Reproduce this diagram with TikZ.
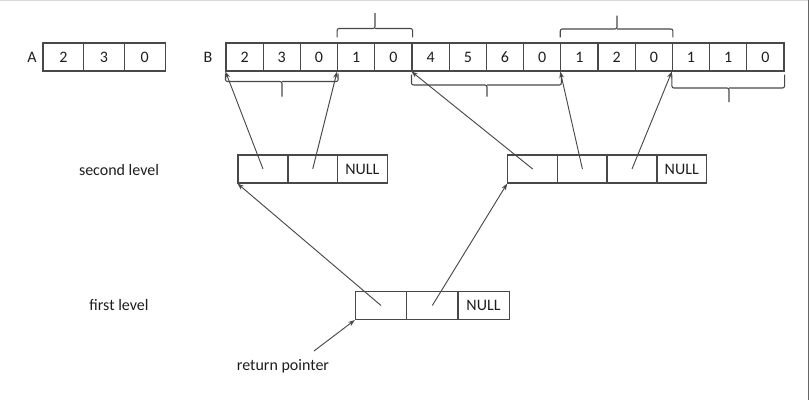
\documentclass[tikz,border=0pt]{standalone}
\usepackage{fontspec}
\setmainfont{Carlito}
\usetikzlibrary{arrows.meta}
\definecolor{ln}{HTML}{484848}
\definecolor{tx}{HTML}{1E1E1E}
\tikzset{
  cellbase/.style={draw=ln, line width=0.8pt, rectangle, inner sep=0pt, text=tx, font=\fontsize{12}{14}\selectfont},
  acell/.style={cellbase, minimum width=30.5pt, minimum height=21pt},
  bcell/.style={cellbase, minimum width=27.9pt, minimum height=21pt},
  lcell/.style={cellbase, minimum width=37.5pt, minimum height=21pt},
  fcell/.style={cellbase, minimum width=38.5pt, minimum height=21pt},
  lbl/.style={text=tx, inner sep=0pt, font=\fontsize{12}{14}\selectfont},
  arr/.style={draw=ln, line width=0.7pt, -{Stealth[length=5pt,width=3.6pt]}},
  brc/.style={draw=ln, line width=0.8pt, rounded corners=1.5pt},
}
\begin{document}
\begin{tikzpicture}[x=0.75pt, y=-0.75pt]
\useasboundingbox (0,0) rectangle (809,400);
% frame artifacts
\draw[black!15, line width=1.2pt] (0,0.6) -- (809,0.6);
\draw[black!60, line width=1pt] (808.2,0) -- (808.2,400);
% labels A, B
\node[lbl] (la) at (32,57) {A};
\node[lbl] (lb) at (208,57) {B};
% array A
\foreach \v [count=\i] in {2,3,0}
  \node[acell] (a\i) at ({43+40.7*(\i-0.5)},57) {\v};
% array B
\foreach \v [count=\i] in {2,3,0,1,0,4,5,6,0,1,2,0,1,1,0}
  \node[bcell] (b\i) at ({226+37.2*(\i-0.5)},57) {\v};
% second level left
\node[lcell] (s1) at (263,169) {};
\node[lcell] (s2) at (312.7,169) {};
\node[lcell] (s3) at (362.3,169) {NULL};
% second level right
\node[lcell] (r1) at (532.7,169) {};
\node[lcell] (r2) at (582.4,169) {};
\node[lcell] (r3) at (632,169) {};
\node[lcell] (r4) at (681.7,169) {NULL};
% first level
\node[fcell] (f1) at (381,305.5) {};
\node[fcell] (f2) at (432.3,305.5) {};
\node[fcell] (f3) at (483.5,305.5) {NULL};
% text labels
\node[lbl] (tsl) at (119,170) {second level};
\node[lbl] (tfl) at (119,305) {first level};
\node[lbl] (trp) at (283,366) {return pointer};
\coordinate (rp) at (314,351);
% braces
\draw[brc] (b1.south west) ++(0,2) |- (282,81.5) -- (282,96.5);
\draw[brc] (b3.south east) ++(0,2) |- (282,81.5);
\draw[brc] (b6.south west) ++(0,3) |- (487,85) -- (487,96.5);
\draw[brc] (b9.south east) ++(0,3) |- (487,85);
\draw[brc] (b13.south west) ++(0,3) |- (729,88) -- (729,102);
\draw[brc] (b15.south east) ++(0,3) |- (729,88);
\draw[brc] (b4.north west) ++(0,-5) |- (375,28.5) -- (375,13);
\draw[brc] (b5.north east) ++(0,-5) |- (375,28.5);
\draw[brc] (b10.north west) ++(0,-5) |- (617,29) -- (617,15.5);
\draw[brc] (b12.north east) ++(0,-5) |- (617,29);
% arrows
\draw[arr] (s1.center) -- (b1.south west);
\draw[arr] (s2.center) -- (b4.south west);
\draw[arr] (r1.center) -- (b6.south west);
\draw[arr] (r2.center) -- (b10.south west);
\draw[arr] (r3.center) -- (b13.south west);
\draw[arr] (f1.center) -- (s1.south west);
\draw[arr] (f2.center) -- (r1.south west);
\draw[arr] (rp) -- (f1.south west);
\end{tikzpicture}
\end{document}
